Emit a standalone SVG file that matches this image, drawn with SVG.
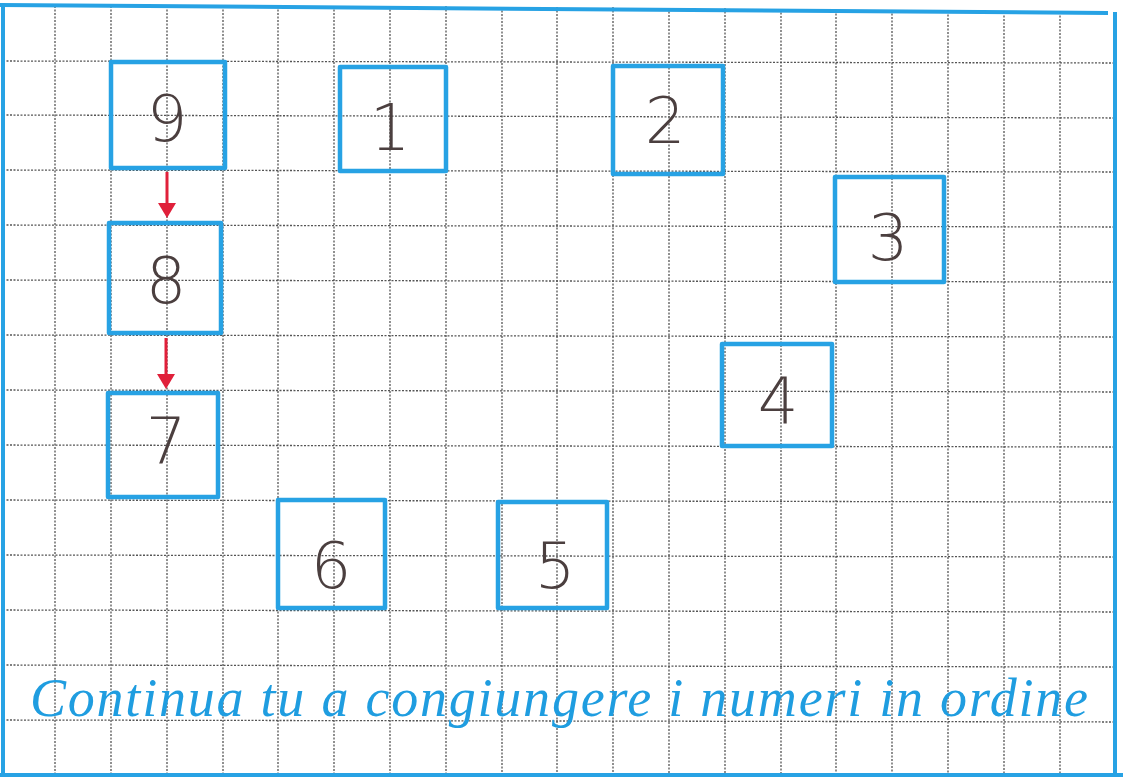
<svg xmlns="http://www.w3.org/2000/svg" width="1123" height="780" viewBox="0 0 1123 780">
<style>
.grid line{stroke:#555555;stroke-width:1.3;stroke-dasharray:2 1.5}
.box{fill:none;stroke:#27a2e4;stroke-width:4.5;stroke-linejoin:round}
.num{font-family:"DejaVu Sans",sans-serif;font-size:64px;fill:#4b3f3f;text-anchor:middle;font-weight:200}
.arrow{stroke:#e0203a;stroke-width:3;fill:none}
.border{stroke:#27a2e4;stroke-width:4;fill:none}
.caption{font-family:"Liberation Serif",serif;font-style:italic;font-size:54px;fill:#1f9de0}
</style>
<defs>
<marker id="ah" markerWidth="6" markerHeight="6" refX="1" refY="3" orient="auto" markerUnits="strokeWidth">
<path d="M0,0 L5,3 L0,6 Z" fill="#e0203a"/>
</marker>
</defs>
<rect width="1123" height="780" fill="#ffffff"/>
<g class="grid">
<line x1="55" y1="6" x2="55" y2="776"/>
<line x1="111" y1="6" x2="111" y2="776"/>
<line x1="167" y1="6" x2="167" y2="776"/>
<line x1="223" y1="6" x2="223" y2="776"/>
<line x1="278" y1="6" x2="278" y2="776"/>
<line x1="334" y1="6" x2="334" y2="776"/>
<line x1="390" y1="6" x2="390" y2="776"/>
<line x1="446" y1="6" x2="446" y2="776"/>
<line x1="502" y1="7" x2="502" y2="776"/>
<line x1="557" y1="7" x2="557" y2="776"/>
<line x1="613" y1="7" x2="613" y2="776"/>
<line x1="669" y1="8" x2="669" y2="776"/>
<line x1="725" y1="8" x2="725" y2="776"/>
<line x1="781" y1="9" x2="781" y2="776"/>
<line x1="836" y1="10" x2="836" y2="776"/>
<line x1="892" y1="10" x2="892" y2="776"/>
<line x1="948" y1="11" x2="948" y2="776"/>
<line x1="1004" y1="12" x2="1004" y2="776"/>
<line x1="1060" y1="12" x2="1060" y2="776"/>
<line x1="3" y1="61" x2="1115" y2="63"/>
<line x1="3" y1="115" x2="1115" y2="118"/>
<line x1="3" y1="170" x2="1115" y2="172"/>
<line x1="3" y1="225" x2="1115" y2="227"/>
<line x1="3" y1="280" x2="1115" y2="282"/>
<line x1="3" y1="335" x2="1115" y2="337"/>
<line x1="3" y1="390" x2="1115" y2="392"/>
<line x1="3" y1="445" x2="1115" y2="447"/>
<line x1="3" y1="500" x2="1115" y2="502"/>
<line x1="3" y1="555" x2="1115" y2="557"/>
<line x1="3" y1="610" x2="1115" y2="612"/>
<line x1="3" y1="665" x2="1115" y2="667"/>
<line x1="3" y1="720" x2="1115" y2="722"/>
</g>
<g id="frame">
<line class="border" x1="0" y1="5" x2="1108" y2="13"/>
<line class="border" x1="3" y1="3" x2="3" y2="776"/>
<line class="border" x1="1115" y1="12" x2="1115" y2="776"/>
<line class="border" x1="0" y1="775" x2="1123" y2="775"/>
</g>
<g id="node-9"><rect class="box" x="111" y="62" width="114" height="106"/><text class="num" x="167" y="141">9</text></g>
<g id="node-1"><rect class="box" x="340" y="67" width="106" height="104"/><text class="num" x="390" y="150">1</text></g>
<g id="node-2"><rect class="box" x="613" y="66" width="110" height="108"/><text class="num" x="665" y="143">2</text></g>
<g id="node-3"><rect class="box" x="835" y="177" width="109" height="105"/><text class="num" x="888" y="260">3</text></g>
<g id="node-8"><rect class="box" x="109" y="223" width="112" height="110"/><text class="num" x="166" y="303">8</text></g>
<g id="node-4"><rect class="box" x="722" y="344" width="110" height="102"/><text class="num" x="778" y="423">4</text></g>
<g id="node-7"><rect class="box" x="108" y="393" width="110" height="104"/><text class="num" x="166" y="463">7</text></g>
<g id="node-6"><rect class="box" x="278" y="500" width="107" height="108"/><text class="num" x="331" y="588">6</text></g>
<g id="node-5"><rect class="box" x="498" y="502" width="109" height="106"/><text class="num" x="555" y="588">5</text></g>
<g id="connectors">
<line class="arrow" x1="167" y1="172" x2="167" y2="206" marker-end="url(#ah)"/>
<line class="arrow" x1="166" y1="338" x2="166" y2="377" marker-end="url(#ah)"/>
</g>
<text class="caption" x="30" y="716" textLength="1058" lengthAdjust="spacing">Continua tu a congiungere i numeri in ordine</text>
</svg>
